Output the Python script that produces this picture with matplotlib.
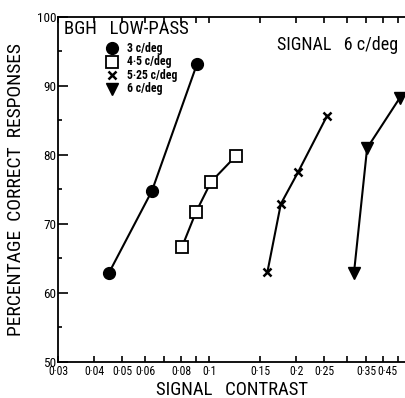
import matplotlib
matplotlib.use("Agg")
import matplotlib.pyplot as plt
from matplotlib import font_manager

# narrow font if there is one, otherwise plain DejaVu
names = set(f.name for f in font_manager.fontManager.ttflist)
narrow = "DejaVu Sans"
for cand in ["Liberation Sans Narrow", "DejaVu Sans Condensed", "Roboto Condensed", "Open Sans Condensed"]:
    if cand in names:
        narrow = cand
        break
plt.rcParams['font.family'] = [narrow, 'DejaVu Sans']

# data (signal contrast, % correct)
c3_x = [0.045, 0.0634, 0.0908]
c3_y = [62.9, 74.8, 93.2]
c45_x = [0.0806, 0.090, 0.1015, 0.124]
c45_y = [66.7, 71.7, 76.1, 79.9]
c525_x = [0.159, 0.177, 0.203, 0.256]
c525_y = [63.0, 72.9, 77.5, 85.7]
c6_x = [0.317, 0.352, 0.457]
c6_y = [62.9, 81.0, 88.3]

series_labels = ['3 c/deg', '4·5 c/deg', '5·25 c/deg', '6 c/deg']

xtick_vals = [0.03, 0.04, 0.05, 0.06, 0.07, 0.08, 0.09, 0.1, 0.15, 0.2, 0.25, 0.3, 0.35, 0.4, 0.45]
xtick_text = ['0·03', '0·04', '0·05', '0·06', '', '0·08', '', '0·1', '0·15', '0·2', '0·25', '', '0·35', '', '0·45']
ytick_vals = [50, 60, 70, 80, 90, 100]

fig = plt.figure(figsize=(4.05, 3.98), dpi=100)
ax = fig.add_axes([58/405, 36/398, 347/405, 345/398])

ax.plot(c3_x, c3_y, '-', color='black', lw=1.5, marker='o', ms=8.5, clip_on=False)
ax.plot(c45_x, c45_y, '-', color='black', lw=1.5, marker='s', ms=8, mfc='white', mew=1.3, clip_on=False)
ax.plot(c525_x, c525_y, '-', color='black', lw=1.5, marker='x', ms=6, mew=1.8, clip_on=False)
ax.plot(c6_x, c6_y, '-', color='black', lw=1.5, marker='v', ms=8.5, clip_on=False)

ax.set_xscale('log')
ax.set_xlim(0.03, 0.476)
ax.set_ylim(50, 100)
ax.minorticks_off()
ax.set_xticks(xtick_vals)
ax.set_xticklabels(xtick_text, fontsize=8.5)
ax.get_xticklabels()[-1].set_horizontalalignment('right')
ax.set_yticks(ytick_vals)
ax.set_yticklabels([str(v) for v in ytick_vals], fontsize=9.5)
ax.set_yticks([55, 65, 75, 85, 95], minor=True)
ax.tick_params(axis='x', which='both', direction='in', length=4, width=1.2, top=True, pad=2)
ax.tick_params(axis='y', which='major', direction='in', length=7, width=1.2, pad=1)
ax.tick_params(axis='y', which='minor', direction='in', length=3, width=1.2)
ax.spines['right'].set_visible(False)
for s in ['left', 'bottom', 'top']:
    ax.spines[s].set_linewidth(1.3)

ax.set_ylabel('PERCENTAGE  CORRECT  RESPONSES', fontsize=14, labelpad=9)
ax.set_xlabel('SIGNAL   CONTRAST', fontsize=13.5, labelpad=2)

ax.text(0.018, 0.99, 'BGH   LOW-PASS', transform=ax.transAxes, fontsize=13.5, va='top', ha='left')
ax.text(0.98, 0.945, 'SIGNAL   6 c/deg', transform=ax.transAxes, fontsize=13, va='top', ha='right')

# legend drawn by hand to sit like the original key
key_marks = [dict(marker='o', ms=8.5), dict(marker='s', ms=8, mfc='white', mew=1.3),
             dict(marker='x', ms=6, mew=1.8), dict(marker='v', ms=8.5)]
for i, (lab, mk) in enumerate(zip(series_labels, key_marks)):
    yy = 0.91 - i * 0.0395
    ax.plot([0.155], [yy], transform=ax.transAxes, color='black', linestyle='none', **mk)
    ax.text(0.198, yy, lab, transform=ax.transAxes, fontsize=8.5, fontweight='bold', va='center', ha='left')

fig.savefig('out.png', dpi=100)
